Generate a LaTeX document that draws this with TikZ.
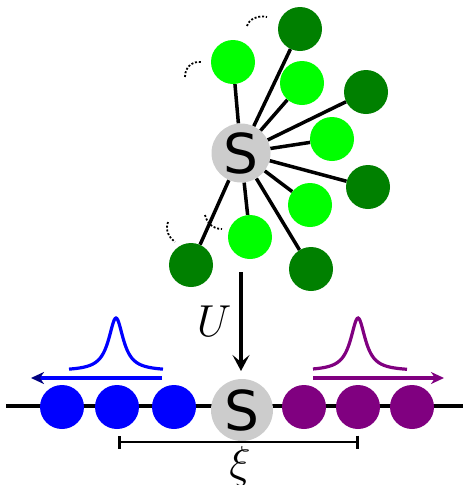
\documentclass[tikz,border=0pt]{standalone}
\usepackage{fontspec}
\newfontfamily\sfont{DejaVu Sans}
\usetikzlibrary{arrows.meta,backgrounds}
\definecolor{lgreen}{HTML}{00FF00}
\definecolor{dgreen}{HTML}{008000}
\definecolor{sgray}{HTML}{CCCCCC}
\definecolor{pblue}{HTML}{0000FF}
\definecolor{navyhead}{HTML}{000080}
\definecolor{ppurple}{HTML}{800080}
\tikzset{
  lg/.style={circle, fill=lgreen, minimum size=44pt, inner sep=0pt},
  dg/.style={circle, fill=dgreen, minimum size=44pt, inner sep=0pt},
  bl/.style={circle, fill=pblue, minimum size=44pt, inner sep=0pt},
  pu/.style={circle, fill=ppurple, minimum size=44pt, inner sep=0pt},
  snode/.style={circle, fill=sgray, minimum size=#1, inner sep=0pt, font=\sfont\fontsize{55}{55}\selectfont},
  bond/.style={line width=3.5pt, black},
  rot/.style={line width=1.8pt, dash pattern=on 2pt off 1.8pt},
  mlabel/.style={font=\fontsize{24.88}{30}\selectfont, scale=1.8, inner sep=0pt},
}
\begin{document}
\begin{tikzpicture}[x=1pt, y=-1pt]
\useasboundingbox (0,0) rectangle (463,485);
% top star
\node[snode=59pt] (S1) at (241,153) {S};
\node[lg] (a1) at (233,62) {};
\node[lg] (a2) at (302,83) {};
\node[lg] (a3) at (332,139) {};
\node[lg] (a4) at (310,205) {};
\node[lg] (a5) at (250,237) {};
\node[dg] (b1) at (300,29) {};
\node[dg] (b2) at (366,92) {};
\node[dg] (b3) at (368,187) {};
\node[dg] (b4) at (311,269) {};
\node[dg] (b5) at (191,265) {};
\begin{scope}[on background layer]
\foreach \n in {a1,a2,a3,a4,a5,b1,b2,b3,b4,b5}{
  \draw[bond] (S1) -- (\n);
}
\end{scope}
% rotation arcs
\draw[rot] (185,77) .. controls (185,66) and (193,61) .. (202,62);
\draw[rot] (247,26) .. controls (249,19) and (258,15) .. (267,17);
\draw[rot] (168,222) .. controls (165,230) and (169,238) .. (175,242);
\draw[rot] (205,215) .. controls (207,224) and (214,229) .. (222,229);
% bottom chain
\node[bl] (c1) at (62,407) {};
\node[bl] (c2) at (117,407) {};
\node[bl] (c3) at (174,407) {};
\node[pu] (d1) at (304,407) {};
\node[pu] (d2) at (358,407) {};
\node[pu] (d3) at (412,407) {};
\node[snode=62pt] (S2) at (242,410) {S};
\coordinate (L) at (6,406);
\coordinate (R) at (463,406);
\begin{scope}[on background layer]
\draw[line width=3.2pt] (L) -- (R);
\end{scope}
% U arrow
\coordinate (Utop) at (241,272);
\coordinate (Ubot) at (241,371);
\draw[line width=3.5pt, -{Stealth[length=16pt, width=17pt, inset=7pt]}] (Utop) -- (Ubot);
\node[mlabel] (U) at (214,321) {$U$};
% propagation arrows
\coordinate (bs) at (162,378);
\coordinate (be) at (31,378);
\draw[pblue, line width=3.2pt, -{Stealth[length=13pt, width=12pt, inset=4pt, color=navyhead]}] (bs) -- (be);
\coordinate (ps) at (313,378);
\coordinate (pe) at (444,378);
\draw[ppurple, line width=3.2pt, -{Stealth[length=13pt, width=12pt, inset=4pt]}] (ps) -- (pe);
% wave packets
\draw[pblue, line width=3.2pt] plot[domain=-47:47, samples=101, smooth] ({116+\x}, {371-53*81/(\x*\x+81)});
\draw[ppurple, line width=3.2pt] plot[domain=-45:49, samples=101, smooth] ({358+\x}, {371-53*81/(\x*\x+81)});
% correlation length
\coordinate (xl) at (118,442);
\coordinate (xr) at (359,442);
\draw[line width=2.8pt, {Bar[width=13pt]}-{Bar[width=13pt]}] (xl) -- (xr);
\node[mlabel] (xi) at (240,466) {$\xi$};
\end{tikzpicture}
\end{document}
